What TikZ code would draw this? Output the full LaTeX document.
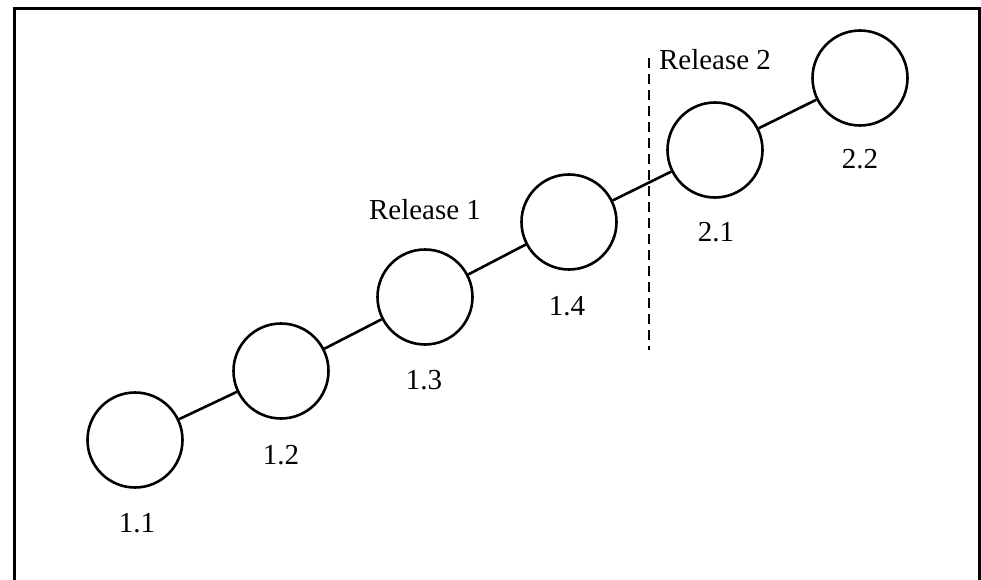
\documentclass[tikz,border=0pt]{standalone}
\usepackage{fontspec}
\setmainfont{Liberation Serif}
\tikzset{
  rel/.style={circle,draw,line width=2.6pt,minimum size=95pt,inner sep=0pt},
  num/.style={font=\fontsize{29}{34}\selectfont},
  link/.style={line width=2.6pt}
}
\begin{document}
\begin{tikzpicture}[x=1pt,y=-1pt]
\useasboundingbox (0,0) rectangle (981,580);
\draw[line width=3pt] (14,600) -- (14,9) -- (979,9) -- (979,600);
\node[rel] (r11) at (135,440) {};
\node[rel] (r12) at (281,371) {};
\node[rel] (r13) at (425,297) {};
\node[rel] (r14) at (569,222) {};
\node[rel] (r21) at (715,150) {};
\node[rel] (r22) at (860,78) {};
\draw[link] (r11) -- (r12) -- (r13) -- (r14) -- (r21) -- (r22);
\node[num] (l11) at (137,523) {1.1};
\node[num] (l12) at (281,455) {1.2};
\node[num] (l13) at (424,380) {1.3};
\node[num] (l14) at (567,306) {1.4};
\node[num] (l21) at (716,232) {2.1};
\node[num] (l22) at (860,159) {2.2};
\node[num] (rel1) at (425,210) {Release 1};
\node[num] (rel2) at (715,60) {Release 2};
\coordinate (cut1) at (649,58);
\coordinate (cut2) at (649,350);
\draw[line width=2.6pt,dash pattern=on 10pt off 6pt] (cut1) -- (cut2);
\end{tikzpicture}
\end{document}
